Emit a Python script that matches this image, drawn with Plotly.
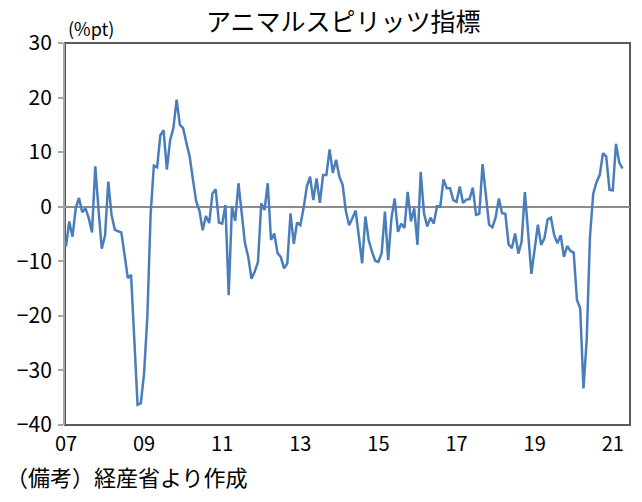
import plotly.graph_objects as go
import pandas as pd

# Monthly animal-spirits index, Jan 2007 - Apr 2021 (%pt)
months = pd.date_range("2007-01-01", periods=172, freq="MS").strftime("%Y-%m").tolist()
values = [
    -7.3, -2.7, -5.5, -0.3, 1.6, -1.0, -0.3, -2.1, -4.7, 7.4, -0.5, -7.7,      # 2007
    -5.3, 4.6, -1.5, -4.2, -4.5, -4.7, -8.8, -13.1, -12.5, -24.4, -36.3, -36.0,  # 2008
    -30.5, -20.2, -1.5, 7.5, 7.2, 13.1, 14.0, 6.8, 12.2, 14.4, 19.6, 15.0,      # 2009
    14.4, 11.7, 9.2, 5.0, 1.0, -0.7, -4.3, -1.7, -3.0, 2.4, 3.2, -2.9,          # 2010
    -3.1, 0.3, -16.2, 0.1, -2.6, 4.3, -0.8, -6.7, -9.2, -13.2, -11.9, -10.1,    # 2011
    0.6, -0.6, 4.3, -6.1, -4.9, -8.5, -9.2, -11.3, -10.4, -1.2, -6.8, -2.9,     # 2012
    -3.4, -0.3, 3.7, 5.5, 1.2, 5.2, 0.7, 5.8, 5.8, 10.5, 6.2, 8.6,              # 2013
    5.5, 4.0, -0.8, -3.4, -2.1, -0.7, -5.5, -10.4, -1.8, -6.1, -8.2, -9.9,      # 2014
    -10.1, -8.5, -0.9, -9.8, -2.1, 1.5, -4.6, -3.1, -3.9, 2.7, -2.7, -0.3,      # 2015
    -7.0, 6.4, -1.2, -3.6, -2.0, -3.1, 0.1, 0.0, 5.0, 3.4, 3.4, 1.2,            # 2016
    0.9, 3.7, 0.7, 1.3, 1.4, 3.5, -1.5, -1.3, 7.8, 1.8, -3.3, -3.8,             # 2017
    -2.0, 1.5, -1.2, -1.3, -6.9, -7.6, -4.9, -8.6, -6.4, 2.7, -4.9, -12.3,      # 2018
    -7.8, -3.3, -7.0, -5.8, -2.3, -2.0, -5.2, -6.7, -5.2, -9.2, -7.2, -8.1,     # 2019
    -8.4, -17.1, -18.6, -33.3, -24.4, -5.5, 2.4, 4.5, 5.8, 9.8, 9.2, 3.1,       # 2020
    3.0, 11.5, 8.1, 7.0,                                                        # 2021
]
tick_labels = ["07", "09", "11", "13", "15", "17", "19", "21"]
tick_months = ["2007-01", "2009-01", "2011-01", "2013-01", "2015-01", "2017-01", "2019-01", "2021-01"]

x_idx = list(range(len(values)))
tick_vals = [months.index(m) for m in tick_months]

FONT = "Noto Sans CJK JP"

fig = go.Figure()
fig.add_trace(go.Scatter(
    x=x_idx, y=values, mode="lines",
    line=dict(color="#4a7ebb", width=2.5),
    hoverinfo="skip", showlegend=False,
))

fig.update_layout(
    width=642, height=502,
    margin=dict(l=65, r=12, t=43, b=77),
    paper_bgcolor="white", plot_bgcolor="white",
    font=dict(family=FONT, color="black", size=21),
    xaxis=dict(
        range=[-0.3, 173.3],
        tickvals=tick_vals, ticktext=tick_labels,
        ticks="", showgrid=False, zeroline=False,
        showline=False,
        tickfont=dict(size=20, family=FONT),
        ticklabelstandoff=5,
    ),
    yaxis=dict(
        range=[-40, 30], dtick=10,
        ticks="outside", ticklen=5, tickcolor="#a6a6a6", tickwidth=2,
        showgrid=False,
        showline=True, linecolor="#a6a6a6", linewidth=2,
        zeroline=True, zerolinecolor="#8c8c8c", zerolinewidth=2,
        tickfont=dict(size=21, family=FONT),
        ticklabelstandoff=2,
    ),
    shapes=[dict(
        type="rect", xref="paper", yref="paper", x0=0, x1=1, y0=0, y1=1,
        line=dict(color="#5a5a5a", width=2), layer="below",
    )],
    annotations=[
        dict(text="アニマルスピリッツ指標", xref="paper", yref="paper",
             x=0.493, y=1.06, xanchor="center", yanchor="middle",
             showarrow=False, font=dict(size=25, family=FONT)),
        dict(text="(%pt)", xref="paper", yref="paper",
             x=0.002, y=1.038, xanchor="left", yanchor="middle",
             showarrow=False, font=dict(size=18, family=FONT)),
        dict(text="（備考）経産省より作成", xref="paper", yref="paper",
             x=-0.108, y=-0.134, xanchor="left", yanchor="middle",
             showarrow=False, font=dict(size=22, family=FONT)),
    ],
)

fig.write_html("out.html")
